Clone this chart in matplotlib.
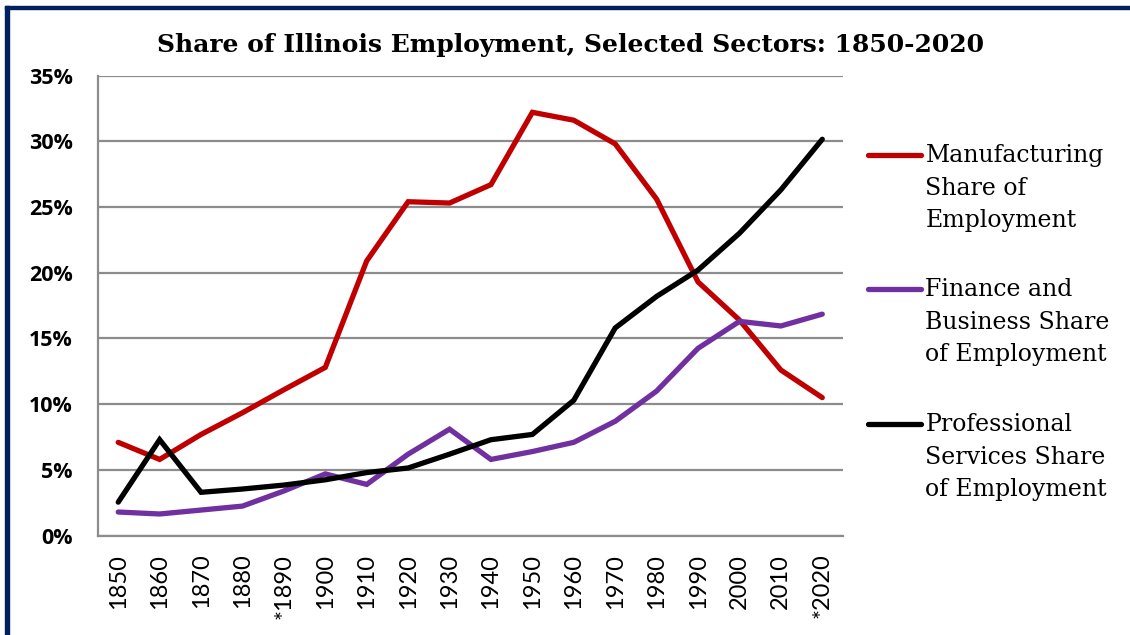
import matplotlib
matplotlib.use("Agg")
import matplotlib.pyplot as plt
from matplotlib.lines import Line2D
from matplotlib.patches import Rectangle
from matplotlib.ticker import FuncFormatter

# ---- Data (share of Illinois employment) ----
years = ['1850', '1860', '1870', '1880', '*1890', '1900', '1910', '1920', '1930',
         '1940', '1950', '1960', '1970', '1980', '1990', '2000', '2010', '*2020']
manufacturing = [7.1, 5.8, 7.7, 9.35, 11.1, 12.8, 20.9, 25.4, 25.3,
                 26.7, 32.2, 31.6, 29.8, 25.6, 19.3, 16.4, 12.6, 10.5]
finance = [1.8, 1.65, 1.95, 2.25, 3.4, 4.7, 3.9, 6.2, 8.1,
           5.8, 6.4, 7.1, 8.7, 11.0, 14.25, 16.3, 15.95, 16.85]
professional = [2.55, 7.3, 3.3, 3.55, 3.85, 4.25, 4.8, 5.15, 6.2,
                7.3, 7.7, 10.3, 15.8, 18.2, 20.2, 23.0, 26.3, 30.15]

labels = ['Manufacturing\nShare of\nEmployment',
          'Finance and\nBusiness Share\nof Employment',
          'Professional\nServices Share\nof Employment']
colors = ['#C00000', '#7030A0', '#000000']
series = [manufacturing, finance, professional]

fig = plt.figure(figsize=(11.3, 6.35), dpi=100)
ax = fig.add_axes([0.0863, 0.1564, 0.6597, 0.7247])

x = list(range(len(years)))
for vals, c in zip(series, colors):
    ax.plot(x, vals, color=c, lw=3.8, solid_capstyle='round', solid_joinstyle='miter', zorder=3)

ax.set_xlim(-0.5, len(years) - 0.5)
ax.set_ylim(0, 35)
ax.set_yticks(range(0, 36, 5))
ax.yaxis.set_major_formatter(FuncFormatter(lambda v, p: f'{v:.0f}%'))
ax.grid(axis='y', color='#8c8c8c', lw=1.6, zorder=1)
ax.set_xticks(x)
ax.set_xticklabels(years, rotation=90, family='Lato', fontsize=17)
for lab in ax.get_yticklabels():
    lab.set_family('Open Sans')
    lab.set_fontweight('bold')
    lab.set_fontsize(15.5)
ax.tick_params(axis='y', length=0, pad=18)
ax.tick_params(axis='x', length=0, pad=13)
for s in ['top', 'right']:
    ax.spines[s].set_visible(False)
for s in ['left', 'bottom']:
    ax.spines[s].set_color('#8c8c8c')
    ax.spines[s].set_linewidth(1.6)

fig.text(0.505, 0.929, 'Share of Illinois Employment, Selected Sectors: 1850-2020',
         ha='center', va='center', family='DejaVu Serif', fontweight='bold', fontsize=18)

# legend drawn by hand to keep the handle on the first line
leg_y = [0.756, 0.545, 0.332]
line_step = 32 / 635
for lab, c, yy in zip(labels, colors, leg_y):
    fig.add_artist(Line2D([0.768, 0.815], [yy, yy], color=c, lw=3.8,
                          solid_capstyle='round', transform=fig.transFigure))
    # va='baseline' pins the last line, so step down two lines from the handle
    fig.text(0.819, yy - 0.0126 - 2 * line_step, lab, ha='left', va='baseline',
             family='DejaVu Serif', fontsize=17, linespacing=1.52)

# frame of the source page
fig.add_artist(Rectangle((0.0045, 0.9906 - 0.0047), 0.9955, 0.0047,
                         color='#002060', transform=fig.transFigure))
fig.add_artist(Rectangle((0.0045, 0), 0.0035, 0.99,
                         color='#002060', transform=fig.transFigure))

fig.savefig('out.png', dpi=100)
